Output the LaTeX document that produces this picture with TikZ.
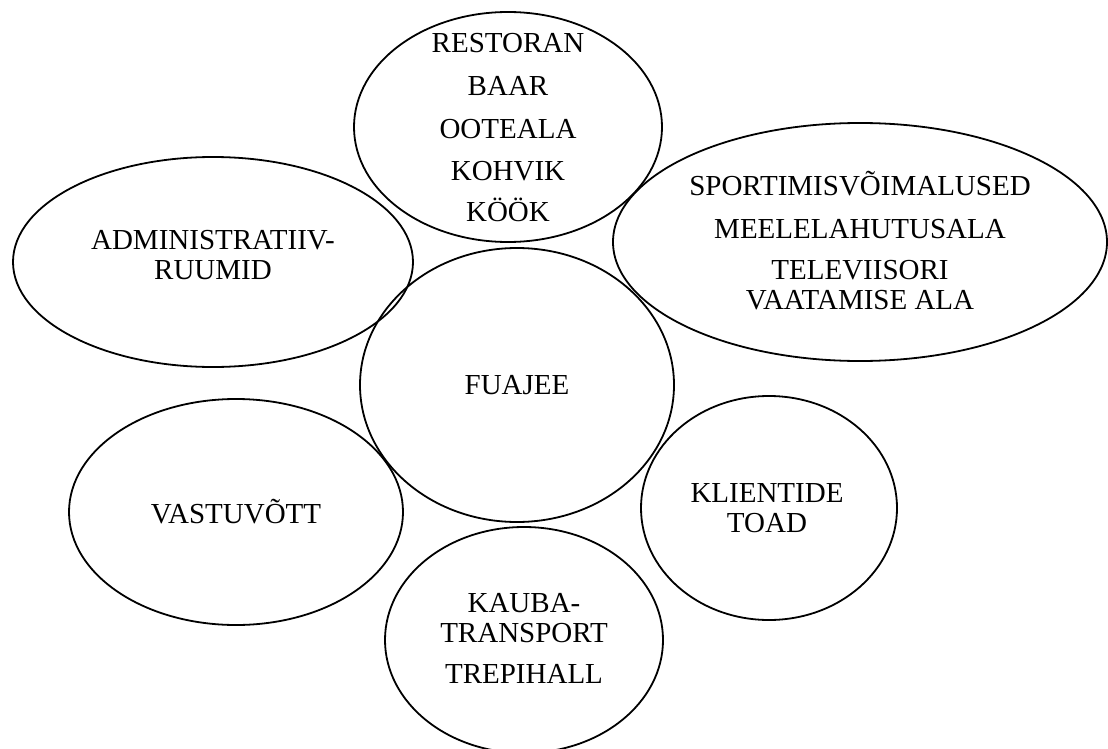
\documentclass[tikz,border=0pt]{standalone}
\usepackage{fontspec}
\setmainfont{Liberation Serif}

\tikzset{
  room/.style={font=\fontsize{29}{30}\selectfont, align=center, inner sep=0pt},
  ring/.style={black, line width=1.8pt}
}

\begin{document}
\begin{tikzpicture}[x=1pt,y=-1pt]
    \useasboundingbox (0,0) rectangle (1108,749);

    % ruumid
    \node[room] (restoran) at (508,128) {RESTORAN\\[13pt]BAAR\\[13pt]OOTEALA\\[12pt]KOHVIK\\[11pt]KÖÖK};
    \node[room] (sport) at (860,241) {SPORTIMISVÕIMALUSED\\[13pt]MEELELAHUTUSALA\\[11pt]TELEVIISORI\\VAATAMISE ALA};
    \node[room] (admin) at (213,255) {ADMINISTRATIIV-\\RUUMID};
    \node[room] (fuajee) at (517,385) {FUAJEE};
    \node[room] (vastu) at (236,512) {VASTUVÕTT};
    \node[room] (toad) at (767,508) {KLIENTIDE\\TOAD};
    \node[room] (kauba) at (524,638) {KAUBA-\\TRANSPORT\\[11pt]TREPIHALL};

    % ellipsid
    \draw[ring] (508,127) ellipse [x radius=154, y radius=115];
    \draw[ring] (860,242) ellipse [x radius=247, y radius=119];
    \draw[ring] (213,262) ellipse [x radius=200, y radius=105];
    \draw[ring] (517,385) ellipse [x radius=157, y radius=137];
    \draw[ring] (236,512) ellipse [x radius=167, y radius=113];
    \draw[ring] (769,508) ellipse [x radius=128, y radius=112];
    \draw[ring] (524,640) ellipse [x radius=139, y radius=113];
\end{tikzpicture}
\end{document}
